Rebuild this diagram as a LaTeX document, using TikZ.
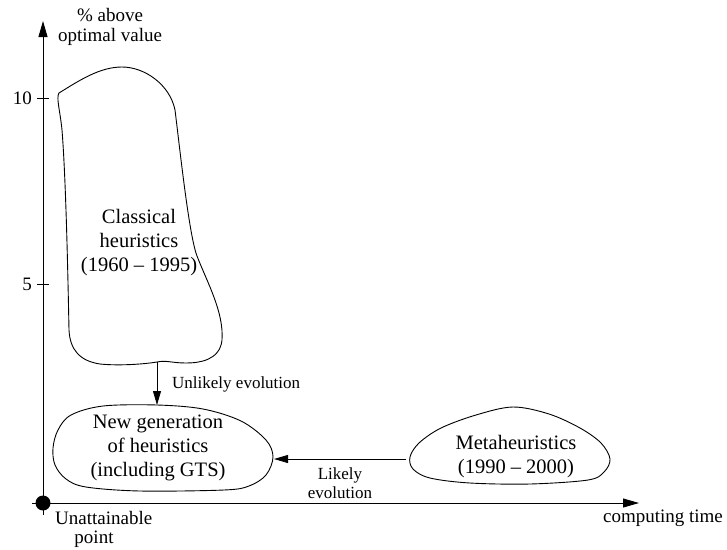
\documentclass[tikz,border=0pt]{standalone}
\usepackage{fontspec}
\setmainfont{Liberation Serif}
\usetikzlibrary{arrows.meta}
\begin{document}
\begin{tikzpicture}[x=1pt,y=-1pt,
  blob/.style={draw,line width=0.9pt,smooth cycle,tension=0.55},
  outline/.style={draw,line width=0.9pt,line join=round},
  blobtext/.style={align=center,inner sep=0pt,font=\fontsize{20.5}{24}\selectfont},
  axislabel/.style={align=center,inner sep=0pt,font=\fontsize{19}{19.5}\selectfont},
  evolabel/.style={align=center,inner sep=0pt,font=\fontsize{17}{18.5}\selectfont},
  axis/.style={line width=0.9pt,-{Triangle[length=16pt,width=9pt]}},
  evo/.style={line width=0.8pt,-{Triangle[length=14pt,width=8pt]}},
  tick/.style={line width=0.8pt}]
\useasboundingbox (0,0) rectangle (727,549);

% axes
\node[circle,fill,inner sep=0pt,minimum size=15pt] (O) at (43,503) {};
\coordinate (ybot) at (43,515);
\coordinate (ytop) at (43,21);
\coordinate (xleft) at (32,503);
\coordinate (xright) at (639,503);
\draw[axis] (ybot) -- (ytop);
\draw[axis] (xleft) -- (xright);

% ticks and their values
\coordinate (t10a) at (37,98);  \coordinate (t10b) at (49,98);
\coordinate (t5a) at (37,284);  \coordinate (t5b) at (49,284);
\draw[tick] (t10a) -- (t10b);
\draw[tick] (t5a) -- (t5b);
\node[axislabel,anchor=east] (l10) at (32,98) {10};
\node[axislabel,anchor=east] (l5) at (32,284) {5};

% axis titles
\node[axislabel] (ytitle) at (110,27) {\% above\\optimal value};
\node[axislabel] (xtitle) at (663,518) {computing time};
\node[axislabel,anchor=north west] (unatt) at (55,511) {Unattainable};
\node[axislabel,anchor=north] (unattpt) at (94,531) {point};

% classical heuristics region (tight corner at its top left)
\draw[outline] (59,93)
  .. controls (80,80) and (100,67) .. (122,67)
  .. controls (145,67) and (170,85) .. (175,110)
  .. controls (180,150) and (189,235) .. (197,256)
  .. controls (207,282) and (224,312) .. (222,340)
  .. controls (220,360) and (200,363) .. (186,363)
  .. controls (172,363) and (166,360) .. (157,362)
  .. controls (145,364) and (120,366) .. (100,364)
  .. controls (80,361) and (70,350) .. (69,330)
  .. controls (68,280) and (66,180) .. (62,130)
  .. controls (60,110) and (56,98) .. (59,93) -- cycle;
\node[blobtext] (classical) at (139,243) {Classical\\heuristics\\(1960 -- 1995)};

% new generation region
\draw[blob] plot coordinates {
  (157,405) (203,409) (241,421) (266,440) (273,457) (266,475)
  (249,486) (224,490) (140,491) (86,487) (66,479) (55,465)
  (53,448) (58,430) (71,415) (103,406)};
\node[blobtext] (newgen) at (158,448) {New generation\\of heuristics\\(including GTS)};

% metaheuristics region
\draw[blob] plot coordinates {
  (513,407) (549,414) (580,428) (601,443) (610,459) (604,472)
  (588,480) (530,484) (470,483) (430,478) (413,469) (410,457)
  (419,443) (441,428) (476,415)};
\node[blobtext] (meta) at (516,457) {Metaheuristics\\(1990 -- 2000)};

% evolution arrows
\coordinate (clbot) at (157,362);
\coordinate (ngtop) at (157,405);
\coordinate (metaleft) at (406,459);
\coordinate (ngright) at (274,459);
\draw[evo] (clbot) -- (ngtop);
\draw[evo] (metaleft) -- (ngright);
\node[evolabel,anchor=west] (unlikely) at (172,384) {Unlikely evolution};
\node[evolabel] (likely) at (340,483) {Likely\\evolution};
\end{tikzpicture}
\end{document}
